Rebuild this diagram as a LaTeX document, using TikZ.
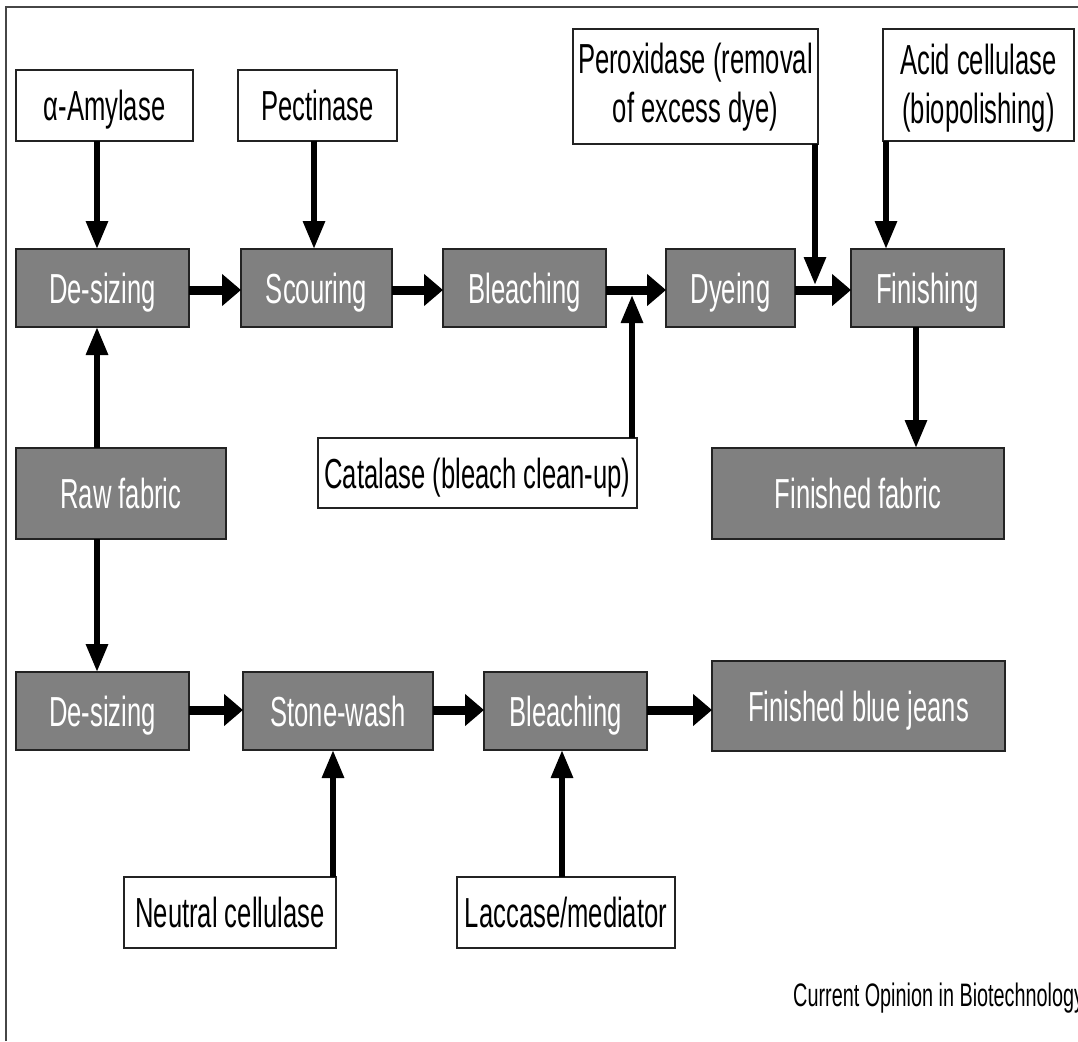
\documentclass[tikz,border=0pt]{standalone}
\usepackage{fontspec}
\setmainfont[FakeStretch=0.61]{Liberation Sans}
\usetikzlibrary{arrows.meta}
\definecolor{boxgray}{RGB}{128,128,128}
\definecolor{edgecol}{RGB}{35,35,35}
\definecolor{framecol}{RGB}{70,70,70}
\begin{document}
\begin{tikzpicture}[x=1pt,y=-1pt,
  base/.style={draw=edgecol, line width=2pt, inner sep=0pt, outer sep=0pt,
    font=\fontsize{42}{49}\selectfont, text height=30pt, text depth=0pt, align=center},
  gbox/.style={base, fill=boxgray, text=white},
  wbox/.style={base, fill=white, text=black},
  harr/.style={line width=9pt, -{Triangle[length=19pt,width=31pt]}},
  varr/.style={line width=6pt, -{Triangle[length=28pt,width=21pt]}},
]
\useasboundingbox (0,0) rectangle (1078,1041);
\draw[framecol, line width=1.5pt] (6,1041) -- (6,7) -- (1078,7);

% enzyme boxes (top)
\node[wbox, minimum width=177pt, minimum height=71pt] (amy) at (104.5,105.5) {α-Amylase};
\node[wbox, minimum width=159pt, minimum height=71pt] (pec) at (317.5,105.5) {Pectinase};
\node[wbox, minimum width=245pt, minimum height=115pt, text height=79pt, text depth=7pt] (per) at (695.5,86.5) {Peroxidase (removal\\of excess dye)};
\node[wbox, minimum width=191pt, minimum height=112pt, text height=79pt, text depth=3pt] (acid) at (978.5,85) {Acid cellulase\\(biopolishing)};

% row 1
\node[gbox, minimum width=173pt, minimum height=78pt] (ds1) at (102.5,288) {De-sizing};
\node[gbox, minimum width=151pt, minimum height=78pt] (sco) at (316.5,288) {Scouring};
\node[gbox, minimum width=163pt, minimum height=78pt] (ble1) at (524.5,288) {Bleaching};
\node[gbox, minimum width=129pt, minimum height=78pt] (dye) at (730.5,288) {Dyeing};
\node[gbox, minimum width=153pt, minimum height=78pt] (fin) at (927.5,288) {Finishing};

% middle
\node[wbox, minimum width=319pt, minimum height=70pt] (cat) at (477.5,473) {Catalase (bleach clean-up)};
\node[gbox, minimum width=210pt, minimum height=91pt] (raw) at (121,493.5) {Raw fabric};
\node[gbox, minimum width=292pt, minimum height=91pt] (ff) at (858,493.5) {Finished fabric};

% row 2
\node[gbox, minimum width=173pt, minimum height=78pt] (ds2) at (102.5,711) {De-sizing};
\node[gbox, minimum width=190pt, minimum height=78pt] (sw) at (338,711) {Stone-wash};
\node[gbox, minimum width=163pt, minimum height=78pt] (ble2) at (565.5,711) {Bleaching};
\node[gbox, minimum width=293pt, minimum height=90pt] (jeans) at (858.5,706) {Finished blue jeans};

% bottom enzymes
\node[wbox, minimum width=212pt, minimum height=71pt] (neu) at (230,912.5) {Neutral cellulase};
\node[wbox, minimum width=218pt, minimum height=71pt] (lac) at (566,912.5) {Laccase/mediator};

% credit (cut off at the right edge, as in the source figure)
\begin{scope}
\clip (0,0) rectangle (1078,1041);
\node[anchor=base west, inner sep=0pt, font=\fontsize{32.5}{38}\selectfont] (credit) at (793,1006) {Current Opinion in Biotechnology};
\end{scope}

% helper coordinates
\coordinate (xa) at (97,0);
\coordinate (xp) at (314,0);
\coordinate (xc) at (632,0);
\coordinate (xo) at (815,0);
\coordinate (xq) at (886,0);
\coordinate (xf) at (916,0);
\coordinate (xn) at (333,0);
\coordinate (xl) at (562,0);
\coordinate (r1) at (0,290);
\coordinate (r2) at (0,710);
\coordinate (catend) at (632,295);
\coordinate (perend) at (815,285);

% vertical arrows
\draw[varr] (amy.south -| xa) -- (ds1.north -| xa);
\draw[varr] (pec.south -| xp) -- (sco.north -| xp);
\draw[varr] (per.south -| xo) -- (perend);
\draw[varr] (acid.south -| xq) -- (fin.north -| xq);
\draw[varr] (cat.north -| xc) -- (catend);
\draw[varr] (fin.south -| xf) -- (ff.north -| xf);
\draw[varr] (raw.north -| xa) -- (ds1.south -| xa);
\draw[varr] (raw.south -| xa) -- (ds2.north -| xa);
\draw[varr] (neu.north -| xn) -- (sw.south -| xn);
\draw[varr] (lac.north -| xl) -- (ble2.south -| xl);

% horizontal arrows
\draw[harr] (ds1.east |- r1) -- (sco.west |- r1);
\draw[harr] (sco.east |- r1) -- (ble1.west |- r1);
\draw[harr] (ble1.east |- r1) -- (dye.west |- r1);
\draw[harr] (dye.east |- r1) -- (fin.west |- r1);
\draw[harr] (ds2.east |- r2) -- (sw.west |- r2);
\draw[harr] (sw.east |- r2) -- (ble2.west |- r2);
\draw[harr] (ble2.east |- r2) -- (jeans.west |- r2);
\end{tikzpicture}
\end{document}
